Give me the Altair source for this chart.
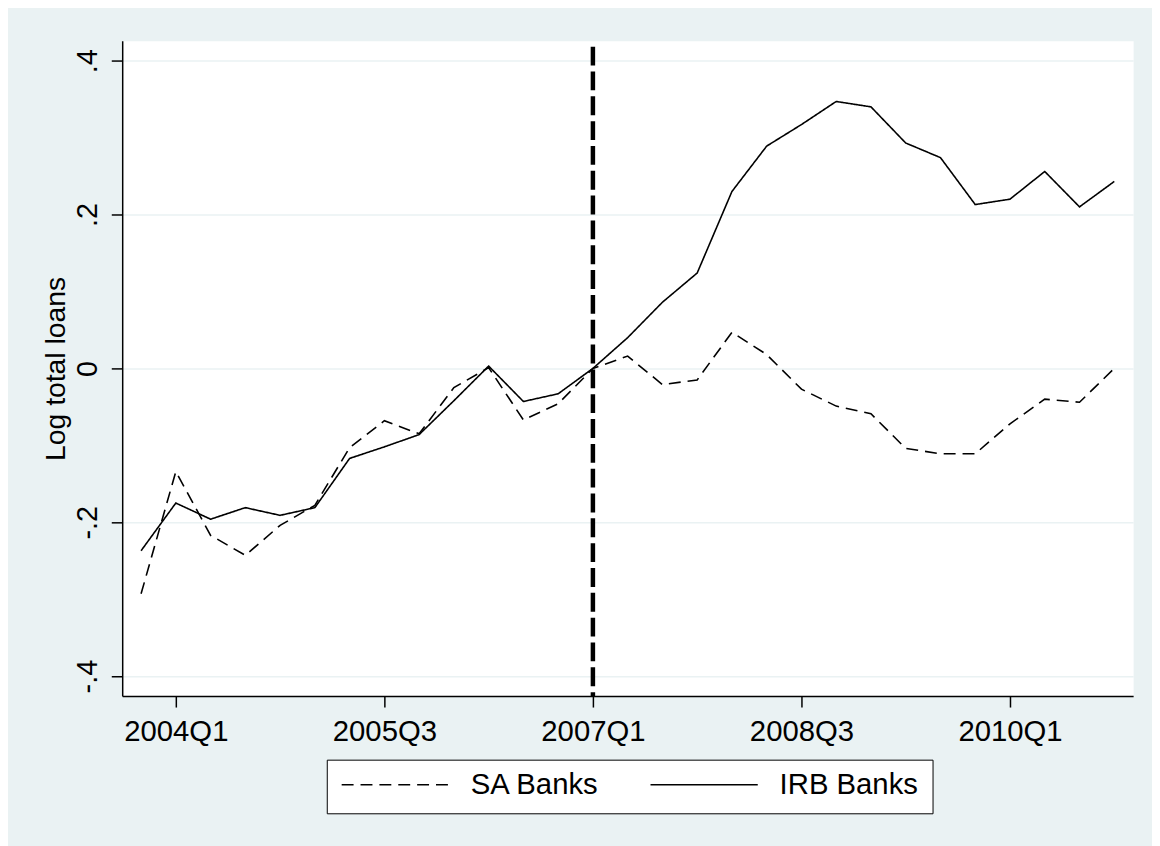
import altair as alt
import pandas as pd

# ---- data ----
quarters = [
    "2003Q4", "2004Q1", "2004Q2", "2004Q3", "2004Q4",
    "2005Q1", "2005Q2", "2005Q3", "2005Q4",
    "2006Q1", "2006Q2", "2006Q3", "2006Q4",
    "2007Q1", "2007Q2", "2007Q3", "2007Q4",
    "2008Q1", "2008Q2", "2008Q3", "2008Q4",
    "2009Q1", "2009Q2", "2009Q3", "2009Q4",
    "2010Q1", "2010Q2", "2010Q3", "2010Q4",
]
sa_banks = [
    -0.293, -0.134, -0.217, -0.243, -0.204,
    -0.178, -0.103, -0.068, -0.085,
    -0.025, 0.001, -0.067, -0.046,
    0.000, 0.016, -0.021, -0.015,
    0.047, 0.018, -0.027, -0.049,
    -0.059, -0.104, -0.111, -0.111,
    -0.072, -0.040, -0.044, 0.000,
]
irb_banks = [
    -0.237, -0.175, -0.196, -0.181, -0.191,
    -0.181, -0.117, -0.102, -0.086,
    -0.042, 0.003, -0.043, -0.033,
    0.000, 0.040, 0.086, 0.124,
    0.230, 0.289, 0.317, 0.347,
    0.340, 0.293, 0.274, 0.213,
    0.220, 0.256, 0.210, 0.243,
]
series_names = ["SA Banks", "IRB Banks"]
x_tick_labels = ["2004Q1", "2005Q3", "2007Q1", "2008Q3", "2010Q1"]
y_ticks = [-0.4, -0.2, 0.0, 0.2, 0.4]
y_tick_labels = ["-.4", "-.2", "0", ".2", ".4"]
event_quarter = ["2007Q1"]
y_title = "Log total loans"

# ---- tables ----
df = pd.concat([
    pd.DataFrame({"quarter": quarters, "value": sa_banks, "series": series_names[0]}),
    pd.DataFrame({"quarter": quarters, "value": irb_banks, "series": series_names[1]}),
], ignore_index=True)
ev = pd.DataFrame({"quarter": event_quarter})

label_expr = "''"
for v, lab in zip(y_ticks, y_tick_labels):
    label_expr = f"abs(datum.value - ({v})) < 1e-6 ? '{lab}' : ({label_expr})"

FONT = "Liberation Sans"
BG = "#EAF2F3"

x_enc = alt.X(
    "quarter:O",
    scale=alt.Scale(type="point", domain=quarters, padding=0.543),
    axis=alt.Axis(
        values=x_tick_labels, title=None, labelAngle=0, labelFontSize=29.5,
        labelBaseline="alphabetic", labelPadding=34, tickSize=11, grid=False,
    ),
)

lines = alt.Chart(df).mark_line(color="black", strokeWidth=1.6).encode(
    x=x_enc,
    y=alt.Y(
        "value:Q",
        scale=alt.Scale(domain=[-0.426, 0.426], nice=False, zero=False),
        axis=alt.Axis(
            values=y_ticks, labelExpr=label_expr, title=y_title,
            labelAngle=270, labelAlign="center", labelBaseline="alphabetic",
            labelPadding=15, labelFontSize=29, tickSize=11,
            titleFontSize=28.5, titleFontWeight="normal", titleAngle=270,
            titleBaseline="alphabetic", titleAlign="center",
            titleX=-58, titleY=330,
            grid=True, gridColor=BG, gridWidth=1.5,
        ),
    ),
    strokeDash=alt.StrokeDash(
        "series:N",
        scale=alt.Scale(domain=series_names, range=[[12, 7], [1, 0]]),
        legend=alt.Legend(
            title=None, orient="none", legendX=206, legendY=724,
            direction="horizontal", columns=2, symbolType="stroke",
            symbolSize=108 * 108, symbolStrokeWidth=1.6, symbolStrokeColor="black",
            clipHeight=22,
            labelFontSize=29.5, labelOffset=21, columnPadding=50,
            padding=14, strokeColor="black", fillColor="white",
        ),
    ),
)

rule = alt.Chart(ev).mark_rule(
    color="black", strokeWidth=4.5, strokeDash=[19, 6], strokeDashOffset=19
).encode(x=alt.X("quarter:O"))

chart = alt.layer(lines, rule).properties(
    width=1018, height=660,
    autosize=alt.AutoSizeParams(type="none"),
    padding={"left": 115, "top": 30, "right": 19, "bottom": 148},
    background=BG,
).configure_view(
    fill="white", stroke="transparent",
).configure_axis(
    labelFont=FONT, titleFont=FONT, labelColor="black", titleColor="black",
    domainColor="black", domainWidth=1.5, tickColor="black", tickWidth=1.5,
).configure_legend(
    labelFont=FONT, labelColor="black",
)

chart.save("out.html", embed_options={"renderer": "svg", "actions": False})
